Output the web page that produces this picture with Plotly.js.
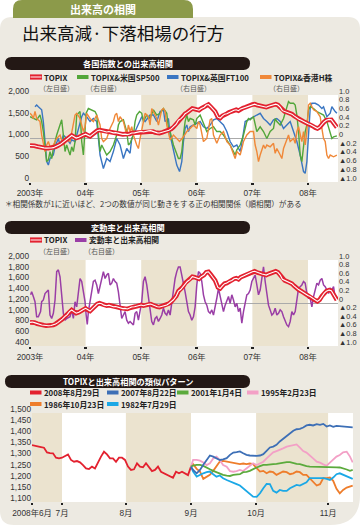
<!DOCTYPE html>
<html><head><meta charset="utf-8">
<script src="https://cdn.plot.ly/plotly-3.0.1.min.js"></script>
<style>html,body{margin:0;padding:0;background:#fff;}#chart{width:360px;height:525px;}</style>
</head><body><div id="chart"></div>
<script>
// ================= DATA =================
// Panel 1 & 2: x in decimal years
const yearTicks = [2003, 2004, 2005, 2006, 2007, 2008];
const yearTickText = ['2003年', '04年', '05年', '06年', '07年', '08年'];

// TOPIX (left scale)
const topixX = [
 2003.00,2003.04,2003.08,2003.13,2003.17,2003.21,2003.25,2003.29,2003.33,2003.38,2003.42,2003.46,2003.50,2003.54,2003.58,2003.63,2003.67,2003.71,2003.75,2003.79,2003.83,2003.88,2003.92,2003.96,
 2004.00,2004.04,2004.08,2004.13,2004.17,2004.21,2004.25,2004.29,2004.33,2004.38,2004.42,2004.46,2004.50,2004.54,2004.58,2004.63,2004.67,2004.71,2004.75,2004.79,2004.83,2004.88,2004.92,2004.96,
 2005.00,2005.04,2005.08,2005.13,2005.17,2005.21,2005.25,2005.29,2005.33,2005.38,2005.42,2005.46,2005.50,2005.54,2005.58,2005.63,2005.67,2005.71,2005.75,2005.79,2005.83,2005.88,2005.92,2005.96,
 2006.00,2006.04,2006.08,2006.13,2006.17,2006.21,2006.25,2006.29,2006.33,2006.38,2006.42,2006.46,2006.50,2006.54,2006.58,2006.63,2006.67,2006.71,2006.75,2006.79,2006.83,2006.88,2006.92,2006.96,
 2007.00,2007.04,2007.08,2007.13,2007.17,2007.21,2007.25,2007.29,2007.33,2007.38,2007.42,2007.46,2007.50,2007.54,2007.58,2007.63,2007.67,2007.71,2007.75,2007.79,2007.83,2007.88,2007.92,2007.96,
 2008.00,2008.04,2008.08,2008.13,2008.17,2008.21,2008.25,2008.29,2008.33,2008.38,2008.42,2008.46,2008.50,2008.52];
const topixY = [
 840,845,835,815,800,790,785,778,776,780,790,810,835,860,900,950,985,1040,1070,1040,1010,1030,1060,1080,
 1100,1070,1050,1100,1150,1180,1195,1185,1160,1150,1160,1145,1130,1135,1120,1105,1095,1100,1090,1105,1125,1130,1140,1155,
 1163,1150,1165,1175,1180,1160,1140,1130,1125,1140,1155,1163,1190,1220,1260,1330,1420,1450,1500,1570,1600,1640,1690,1680,
 1670,1650,1690,1720,1770,1780,1730,1680,1620,1490,1470,1520,1560,1570,1600,1620,1650,1660,1640,1680,1700,1720,1730,1760,
 1780,1790,1770,1760,1740,1730,1720,1740,1760,1780,1790,1770,1720,1640,1620,1600,1590,1560,1520,1480,1450,1420,1390,1370,
 1340,1320,1290,1250,1230,1260,1330,1380,1420,1440,1430,1360,1300,1256];

// TOPIX & 米国SP500 (right scale)
const sp500X = [
 2003.00,2003.06,2003.12,2003.18,2003.21,2003.24,2003.27,2003.30,2003.33,2003.36,2003.39,2003.42,2003.48,2003.54,2003.57,2003.60,2003.63,2003.66,2003.72,2003.75,2003.78,2003.81,2003.84,2003.90,2003.93,2003.96,2003.99,
 2004.01,2004.05,2004.11,2004.17,2004.20,2004.23,2004.26,2004.29,2004.32,2004.38,2004.44,2004.50,2004.56,2004.59,2004.62,2004.68,2004.74,2004.77,2004.80,2004.86,2004.89,2004.92,2004.97,
 2005.01,2005.04,2005.10,2005.16,2005.22,2005.28,2005.34,2005.40,2005.46,2005.49,2005.52,2005.58,2005.64,2005.67,2005.70,2005.73,2005.76,2005.79,2005.82,2005.85,2005.88,2005.94,2005.97,
 2006.00,2006.06,2006.12,2006.18,2006.24,2006.30,2006.36,2006.42,2006.48,2006.54,2006.60,2006.66,2006.69,2006.72,2006.78,2006.84,2006.90,2006.93,2006.96,
 2007.02,2007.05,2007.08,2007.14,2007.20,2007.26,2007.32,2007.38,2007.41,2007.44,2007.50,2007.56,2007.62,2007.65,2007.68,2007.74,2007.77,2007.80,2007.83,2007.86,2007.89,2007.92,2007.95,2007.98,
 2008.01,2008.04,2008.10,2008.16,2008.22,2008.28,2008.34,2008.40,2008.43,2008.46,2008.52];
const sp500Y = [
 0.50,0.46,0.43,0.54,0.39,0.16,-0.23,-0.53,-0.49,-0.30,-0.46,-0.23,0.08,0.31,0.43,0.08,-0.30,-0.15,-0.38,-0.19,-0.30,-0.07,0.54,0.62,-0.07,-0.38,0.08,
 0.58,0.69,0.66,0.62,0.54,0.08,-0.30,-0.15,-0.23,-0.38,-0.30,-0.15,0.08,0.31,0.39,0.43,0.16,-0.15,-0.11,0.08,0.39,0.54,0.62,
 0.58,0.39,0.54,0.46,0.66,0.54,0.58,0.69,0.58,0.23,0.16,-0.15,-0.38,-0.46,-0.46,-0.30,0.08,0.39,0.54,0.39,0.46,0.43,0.31,
 0.46,0.54,0.35,0.16,0.23,0.27,0.16,0.16,0.08,-0.03,-0.15,-0.30,-0.38,-0.26,-0.15,0.08,0.39,0.46,0.43,
 0.50,0.31,0.16,0.27,0.16,0.00,0.16,0.23,0.46,0.39,0.31,0.46,0.69,0.85,0.81,0.81,0.77,0.54,0.16,-0.38,-0.53,-0.23,0.16,0.31,
 0.66,0.73,0.69,0.62,0.58,0.54,0.39,0.16,0.00,0.04,0.06];

// TOPIX & 英国FT100 (right scale)
const ft100X = [
 2003.09,2003.12,2003.15,2003.18,2003.21,2003.24,2003.27,2003.30,2003.33,2003.36,2003.42,2003.45,2003.51,2003.54,2003.60,2003.66,2003.72,2003.75,2003.81,2003.87,2003.90,2003.93,2003.96,
 2004.02,2004.08,2004.14,2004.20,2004.26,2004.32,2004.38,2004.44,2004.50,2004.56,2004.62,2004.68,2004.74,2004.80,2004.83,2004.89,2004.95,
 2005.01,2005.07,2005.16,2005.22,2005.28,2005.34,2005.40,2005.43,2005.49,2005.52,2005.58,2005.64,2005.69,2005.73,2005.76,2005.79,2005.82,2005.85,2005.88,2005.94,
 2006.00,2006.06,2006.12,2006.18,2006.24,2006.30,2006.36,2006.42,2006.48,2006.54,2006.60,2006.66,2006.72,2006.78,2006.81,2006.87,2006.96,
 2007.02,2007.08,2007.14,2007.20,2007.26,2007.32,2007.38,2007.44,2007.50,2007.56,2007.62,2007.68,2007.74,2007.80,2007.86,2007.89,2007.92,2007.95,2007.98,
 2008.01,2008.04,2008.07,2008.13,2008.19,2008.25,2008.28,2008.34,2008.40,2008.43,2008.49,2008.52];
const ft100Y = [
 0.73,0.77,0.73,0.69,0.66,0.39,-0.15,-0.53,-0.61,-0.46,-0.38,-0.19,0.00,-0.15,0.08,0.00,-0.11,-0.03,-0.07,0.23,0.39,0.50,0.58,
 0.50,0.39,0.46,0.39,-0.38,-0.69,-0.46,-0.53,-0.30,0.00,-0.15,-0.46,-0.23,-0.34,0.00,0.16,0.35,
 0.50,0.39,0.54,0.54,0.39,0.62,0.66,0.39,0.46,0.08,-0.23,-0.61,-0.76,-0.53,-0.07,0.23,0.31,0.16,0.27,0.31,
 0.35,0.39,0.27,0.23,0.31,0.43,0.46,0.39,0.31,0.16,-0.07,-0.19,-0.15,-0.30,-0.11,0.39,0.46,
 0.50,0.54,0.58,0.46,0.39,0.31,0.43,0.46,0.39,0.23,0.31,0.39,0.16,-0.07,-0.38,-0.61,-0.76,-0.80,-0.53,
 0.08,0.69,0.81,0.81,0.77,0.69,0.73,0.50,0.58,0.73,0.62,0.58];

// TOPIX & 香港H株 (right scale)
const hshareX = [
 2003.00,2003.03,2003.06,2003.09,2003.12,2003.18,2003.21,2003.24,2003.27,2003.30,2003.33,2003.36,2003.42,2003.48,2003.54,2003.60,2003.66,2003.72,2003.78,2003.81,2003.84,2003.90,2003.96,2003.99,
 2004.02,2004.08,2004.14,2004.20,2004.26,2004.29,2004.32,2004.38,2004.44,2004.50,2004.53,2004.56,2004.59,2004.62,2004.68,2004.71,2004.74,2004.77,2004.80,2004.83,2004.86,2004.92,2004.95,2004.98,
 2005.01,2005.04,2005.07,2005.13,2005.16,2005.19,2005.22,2005.28,2005.31,2005.34,2005.37,2005.40,2005.43,2005.46,2005.49,2005.52,2005.58,2005.64,2005.69,2005.76,2005.82,2005.88,2005.94,
 2006.00,2006.03,2006.06,2006.12,2006.18,2006.24,2006.27,2006.30,2006.36,2006.42,2006.48,2006.54,2006.60,2006.66,2006.69,2006.72,2006.78,2006.81,2006.84,2006.90,2006.96,
 2007.02,2007.05,2007.08,2007.11,2007.14,2007.20,2007.23,2007.26,2007.32,2007.38,2007.41,2007.44,2007.50,2007.53,2007.56,2007.62,2007.65,2007.68,2007.74,2007.77,2007.80,2007.83,2007.86,2007.89,2007.92,2007.95,2007.98,
 2008.01,2008.04,2008.10,2008.16,2008.22,2008.25,2008.28,2008.31,2008.34,2008.37,2008.40,2008.46,2008.52];
const hshareY = [
 0.58,0.54,0.46,0.62,0.46,0.39,0.08,-0.15,-0.30,-0.15,-0.07,-0.19,-0.15,0.00,0.08,-0.15,-0.03,-0.07,0.39,0.54,0.58,0.46,0.16,0.27,
 0.58,0.46,0.39,0.54,0.31,0.00,-0.07,0.00,0.23,0.39,0.54,0.58,0.39,0.50,0.39,0.23,0.08,0.31,0.16,0.27,0.08,-0.15,-0.23,0.00,
 0.20,0.46,0.58,0.50,0.31,0.69,0.62,0.46,0.31,0.46,0.66,0.69,0.62,0.31,0.16,-0.03,0.08,0.00,-0.07,0.04,0.16,0.23,0.31,
 0.23,0.39,0.31,-0.07,0.00,0.43,0.46,0.08,-0.11,0.08,0.16,-0.07,-0.15,-0.38,-0.46,-0.30,-0.38,-0.23,-0.07,0.08,0.16,
 0.16,-0.15,-0.30,-0.53,-0.38,-0.15,-0.23,-0.15,-0.19,-0.11,-0.34,-0.23,-0.38,-0.46,-0.23,0.00,0.08,-0.07,0.00,-0.11,0.16,0.27,0.08,-0.07,0.16,-0.15,0.16,
 0.77,0.81,0.66,0.62,0.50,0.23,0.00,-0.07,-0.38,-0.46,-0.38,-0.42,-0.38];

// 変動率と出来高相関 (right scale, panel 2)
const volX = [
 2003.01,2003.03,2003.06,2003.09,2003.12,2003.15,2003.19,2003.21,2003.24,2003.27,2003.30,2003.33,2003.36,2003.39,2003.42,2003.45,2003.48,2003.51,2003.54,2003.57,2003.60,2003.63,2003.66,2003.72,2003.75,2003.78,2003.81,2003.84,2003.87,2003.90,2003.93,2003.96,2003.99,
 2004.01,2004.03,2004.05,2004.08,2004.11,2004.14,2004.17,2004.20,2004.23,2004.26,2004.29,2004.32,2004.35,2004.38,2004.41,2004.44,2004.47,2004.50,2004.53,2004.56,2004.59,2004.62,2004.65,2004.68,2004.71,2004.74,2004.77,2004.80,2004.83,2004.86,2004.89,2004.92,2004.95,2004.98,
 2005.01,2005.04,2005.07,2005.10,2005.13,2005.16,2005.19,2005.22,2005.25,2005.28,2005.31,2005.34,2005.37,2005.40,2005.43,2005.46,2005.49,2005.52,2005.55,2005.58,2005.61,2005.64,2005.67,2005.70,2005.73,2005.76,2005.79,2005.82,2005.85,2005.88,2005.91,2005.94,2005.97,
 2006.00,2006.03,2006.06,2006.09,2006.12,2006.15,2006.18,2006.21,2006.24,2006.27,2006.30,2006.33,2006.36,2006.39,2006.42,2006.45,2006.48,2006.51,2006.54,2006.57,2006.60,2006.63,2006.66,2006.69,2006.72,2006.75,2006.78,2006.81,2006.84,2006.87,2006.90,2006.93,2006.96,2006.99,
 2007.02,2007.05,2007.08,2007.11,2007.14,2007.17,2007.20,2007.23,2007.26,2007.29,2007.32,2007.35,2007.38,2007.41,2007.44,2007.47,2007.50,2007.53,2007.56,2007.59,2007.62,2007.65,2007.68,2007.71,2007.74,2007.77,2007.80,2007.83,2007.86,2007.89,2007.92,2007.95,2007.98,
 2008.01,2008.04,2008.07,2008.10,2008.13,2008.16,2008.19,2008.22,2008.25,2008.28,2008.31,2008.34,2008.37,2008.40,2008.43,2008.46,2008.49,2008.52];
const volY = [
 0.19,0.26,0.15,0.03,-0.32,-0.32,-0.20,0.03,0.07,0.22,0.26,0.30,-0.28,-0.36,-0.24,0.07,0.73,0.77,0.61,0.26,-0.24,-0.40,-0.36,-0.32,-0.16,-0.36,0.03,-0.09,0.22,0.57,0.50,0.26,0.03,
 -0.28,-0.50,-0.20,0.03,0.19,0.50,0.53,0.42,0.22,0.42,0.61,0.73,0.57,0.65,0.69,0.42,0.46,0.57,0.50,0.46,0.26,-0.12,-0.36,-0.28,-0.20,-0.40,-0.47,-0.43,-0.47,-0.51,-0.24,-0.20,-0.40,-0.20,
 0.03,0.50,0.61,0.42,0.11,-0.12,-0.43,-0.51,-0.36,-0.32,-0.43,-0.36,-0.28,-0.12,-0.24,-0.28,-0.16,-0.28,0.03,0.26,0.57,0.73,0.84,0.84,0.65,0.50,0.26,0.03,-0.20,-0.28,-0.40,-0.32,-0.09,
 0.42,0.73,0.69,0.50,0.19,0.03,-0.05,-0.20,-0.24,-0.16,-0.28,-0.12,0.11,0.34,0.15,-0.05,-0.20,-0.05,0.07,0.15,-0.01,0.19,0.07,-0.09,-0.01,-0.20,-0.12,-0.47,-0.20,0.03,0.19,0.22,0.30,0.50,
 0.57,0.65,0.42,0.19,0.30,0.57,0.84,0.50,0.19,-0.05,-0.16,-0.28,-0.24,-0.12,-0.28,-0.24,-0.16,-0.20,-0.32,-0.43,-0.51,-0.55,-0.43,-0.20,-0.28,-0.20,0.03,0.34,0.38,0.42,0.50,0.46,0.22,
 0.11,0.11,-0.09,0.15,0.34,0.46,0.42,0.53,0.57,0.42,0.38,0.30,0.22,0.34,0.30,0.38,0.11,0.15];

// Panel 3: x = trading days from mid-June 2008
const monthTicks = [0, 10, 31.3, 53, 74.7, 98.7];
const monthTickText = ['2008年6月', '7月', '8月', '9月', '10月', '11月'];
const topix2008X = [0,1,2,3,4,5,6,7,8,9,10,11,12,13,14,15,16,17,18,19,20,21,22,23,24,25,26,27,28,29,30,31,32,33,34,35,36,37,38,39,40,41,42,43,44,45,46,47,48,49,50,51,52,53];
const topix2008Y = [1356,1352,1349,1347,1344,1323,1320,1319,1299,1296,1299,1305,1314,1289,1281,1284,1278,1266,1251,1248,1259,1251,1281,1304,1326,1314,1296,1296,1281,1299,1299,1289,1259,1244,1247,1274,1259,1256,1274,1259,1239,1244,1259,1236,1229,1224,1218,1209,1236,1229,1236,1229,1221,1259];
const patternX = [53,53.7,54.9,56,57.1,58.2,59.3,60.4,61.5,62.6,63.7,64.9,66,67.1,68.2,69.3,70.4,71.5,72.6,73.7,74.9,76,77.1,78.2,79.3,80.4,81.5,82.6,83.7,84.9,86,87.1,88.2,89.3,90.4,91.5,92.6,93.7,94.9,96,97.1,98.2,99.3,100.4,101.5,102.6,103.7,104.9,106,106.9];
const p20070822 = [1259,1244,1229,1244,1267,1289,1309,1304,1297,1289,1292,1297,1312,1322,1324,1327,1319,1312,1309,1307,1307,1309,1315,1330,1345,1349,1357,1372,1384,1397,1409,1420,1427,1429,1435,1444,1447,1444,1450,1447,1451,1439,1444,1438,1442,1441,1441,1438,1439,1435];
const p20010104 = [1259,1264,1267,1267,1262,1256,1247,1240,1234,1228,1222,1219,1217,1222,1223,1225,1234,1235,1240,1249,1255,1261,1267,1267,1267,1270,1271,1274,1277,1279,1279,1274,1271,1270,1264,1261,1259,1259,1258,1256,1258,1259,1259,1258,1256,1255,1252,1246,1240,1244];
const p19950223 = [1259,1289,1289,1286,1278,1266,1274,1296,1304,1289,1266,1259,1239,1236,1239,1244,1239,1251,1263,1274,1266,1274,1281,1296,1311,1323,1329,1334,1341,1349,1352,1353,1359,1344,1329,1322,1311,1296,1281,1277,1269,1263,1277,1289,1304,1311,1323,1326,1304,1278];
const p19861023 = [1259,1270,1249,1237,1204,1214,1222,1240,1259,1282,1285,1282,1279,1274,1274,1270,1273,1270,1273,1270,1252,1237,1240,1229,1237,1234,1222,1229,1237,1234,1225,1229,1237,1234,1222,1222,1207,1192,1174,1180,1207,1207,1210,1195,1159,1139,1154,1165,1169,1174];
const p19820729 = [1259,1237,1214,1222,1229,1234,1237,1225,1214,1219,1207,1199,1192,1184,1180,1174,1162,1150,1135,1124,1123,1139,1162,1181,1180,1150,1142,1154,1150,1150,1162,1169,1177,1174,1180,1189,1207,1207,1210,1210,1207,1204,1199,1210,1225,1229,1222,1214,1207,1204];

const corrTicks = [-1,-0.8,-0.6,-0.4,-0.2,0,0.2,0.4,0.6,0.8,1];
const corrTickText = ['▲1.0','▲0.8','▲0.6','▲0.4','▲0.2','0','0.2','0.4','0.6','0.8','1.0'];
const lvl1Ticks = [0,500,1000,1500,2000];
const lvl1Text = ['0','500','1,000','1,500','2,000'];
const lvl2Ticks = [400,600,800,1000,1200,1400,1600,1800,2000];
const lvl2Text = ['400','600','800','1,000','1,200','1,400','1,600','1,800','2,000'];
const lvl3Ticks = [1100,1150,1200,1250,1300,1350,1400,1450,1500];
const lvl3Text = ['1,100','1,150','1,200','1,250','1,300','1,350','1,400','1,450','1,500'];

// ================= STYLE / LAYOUT =================
const W = 360, H = 525;
const JP = '"Noto Sans CJK JP", sans-serif';
const NUM = '"Liberation Sans", "Noto Sans CJK JP", sans-serif';
const C = {red:'#E3212F', green:'#52A63A', blue:'#3A76C2', orange:'#F08838', purple:'#9A3EA6',
  b07:'#3D6FB6', g01:'#5BAA3C', pink:'#F3A0C6', o86:'#EE7D2B', cyan:'#1BA8E6',
  card:'#EDEAE2', beige:'#EBE3CF', bar:'#231815', tab:'#8C9A4A'};
const PX = x => x / W, PY = y => 1 - y / H;

function rr(x0, y0, x1, y1, r) {
  const [tl, tr, br, bl] = Array.isArray(r) ? r : [r, r, r, r];
  const P = (x, y) => (x / W).toFixed(5) + ',' + (1 - y / H).toFixed(5);
  return 'M' + P(x0 + tl, y0) + ' L' + P(x1 - tr, y0) + ' Q' + P(x1, y0) + ' ' + P(x1, y0 + tr) +
    ' L' + P(x1, y1 - br) + ' Q' + P(x1, y1) + ' ' + P(x1 - br, y1) +
    ' L' + P(x0 + bl, y1) + ' Q' + P(x0, y1) + ' ' + P(x0, y1 - bl) +
    ' L' + P(x0, y0 + tl) + ' Q' + P(x0, y0) + ' ' + P(x0 + tl, y0) + ' Z';
}
const shapes = [];
const ann = [];
function pathShape(d, fill) { shapes.push({type:'path', xref:'paper', yref:'paper', path:d, fillcolor:fill, line:{width:0}, layer:'below'}); }
function rectPx(x0, y0, x1, y1, fill) { shapes.push({type:'rect', xref:'paper', yref:'paper', x0:PX(x0), x1:PX(x1), y0:PY(y1), y1:PY(y0), fillcolor:fill, line:{width:0}, layer:'below'}); }
function band(xref, a, b, y0, y1) { shapes.push({type:'rect', xref:xref, yref:'paper', x0:a, x1:b, y0:PY(y1), y1:PY(y0), fillcolor:C.beige, line:{width:0}, layer:'below'}); }
function text(t, x, y, opt) {
  opt = opt || {};
  ann.push({text:t, xref:'paper', yref:'paper', x:PX(x), y:PY(y), xanchor:opt.xa || 'left', yanchor:'middle', showarrow:false,
    borderpad:0, font:{family:opt.fam || JP, size:opt.size || 8, color:opt.color || '#222', weight:opt.weight || 400}});
}

// card + tab
pathShape(rr(0, 17, 360, 525, [12, 12, 30, 14]), C.card);
pathShape(rr(13, 0, 193, 18, [9, 9, 0, 0]), C.tab);
text('出来高の相関', 103, 8.5, {xa:'center', size:11, color:'#fff', weight:700});
text('出来高減·下落相場の行方', 21, 33, {size:17.5, color:'#111'});

// header bars
[[57, 70, '各国指数との出来高相関'], [221, 234, '変動率と出来高相関'], [375, 388, 'TOPIXと出来高相関の類似パターン']].forEach(h => {
  pathShape(rr(5, h[0], 250, h[1], 6.5), C.bar);
  text(h[2], 128, (h[0] + h[1]) / 2 - 0.5, {xa:'center', size:8.2, color:'#fff', weight:700});
});

// plot areas
rectPx(30, 95, 338, 182, '#fff');
rectPx(30, 260, 338, 346, '#fff');
rectPx(32, 413, 353, 502, '#fff');
[[2003, 2004], [2005, 2006], [2007, 2008]].forEach(b => { band('x', b[0], b[1], 95, 182); band('x2', b[0], b[1], 260, 346); });
band('x3', monthTicks[0], monthTicks[1], 413, 502);
band('x3', monthTicks[2], monthTicks[3], 413, 502);
band('x3', monthTicks[4], monthTicks[5], 413, 502);

// legends
function sym(x0, yc, color, topixStyle) {
  if (topixStyle) {
    rectPx(x0, yc - 2.6, x0 + 12, yc + 2.6, C.red);
    rectPx(x0 + 0.5, yc - 0.5, x0 + 11.5, yc + 0.5, '#fff');
  } else rectPx(x0, yc - 2, x0 + 11.5, yc + 2, color);
}
function leg(x0, yc, color, label, sub, topixStyle) {
  sym(x0, yc, color, topixStyle);
  text(label, x0 + 13, yc, {size:7.8, weight:700, color:'#222'});
  if (sub) text(sub, x0 + 8, yc + 11, {size:7, color:'#555'});
}
leg(30, 77, C.red, 'TOPIX', '（左目盛）', true);
leg(77, 77, C.green, 'TOPIX&米国SP500', '（右目盛）');
leg(167, 77, C.blue, 'TOPIX&英国FT100', '（右目盛）');
leg(260, 77, C.orange, 'TOPIX&香港H株', '（右目盛）');
leg(30, 240, C.red, 'TOPIX', '（左目盛）', true);
leg(75, 240, C.purple, '変動率と出来高相関', '（右目盛）');
leg(30, 392.5, C.red, '2008年8月29日');
leg(107, 392.5, C.b07, '2007年8月22日');
leg(177, 392.5, C.g01, '2001年1月4日');
leg(247, 392.5, C.pink, '1995年2月23日');
leg(30, 404, C.o86, '1986年10月23日');
leg(107, 404, C.cyan, '1982年7月29日');

text('＊相関係数が1に近いほど、2つの数値が同じ動きをする正の相関関係（順相関）がある', 4, 203, {size:7.6, color:'#333'});

// traces
function ln(x, y, xa, ya, color, width, name) {
  return {type:'scatter', mode:'lines', x:x, y:y, xaxis:xa, yaxis:ya, name:name || '', line:{color:color, width:width}, hoverinfo:'skip', showlegend:false};
}
const traces = [
  ln(ft100X, ft100Y, 'x', 'y', C.blue, 1.4, 'TOPIX&英国FT100'),
  ln(sp500X, sp500Y, 'x', 'y', C.green, 1.4, 'TOPIX&米国SP500'),
  ln(hshareX, hshareY, 'x', 'y', C.orange, 1.4, 'TOPIX&香港H株'),
  ln(topixX, topixY, 'x', 'y2', C.red, 4.6, 'TOPIX'),
  ln(topixX, topixY, 'x', 'y2', '#fff', 1.1),
  ln(volX, volY, 'x2', 'y3', C.purple, 1.5, '変動率と出来高相関'),
  ln(topixX, topixY, 'x2', 'y4', C.red, 4.6, 'TOPIX'),
  ln(topixX, topixY, 'x2', 'y4', '#fff', 1.1),
  ln(topix2008X, topix2008Y, 'x3', 'y5', C.red, 1.8, '2008年8月29日'),
  ln(patternX, p19861023, 'x3', 'y5', C.o86, 1.8, '1986年10月23日'),
  ln(patternX, p19820729, 'x3', 'y5', C.cyan, 1.8, '1982年7月29日'),
  ln(patternX, p19950223, 'x3', 'y5', C.pink, 1.8, '1995年2月23日'),
  ln(patternX, p20010104, 'x3', 'y5', C.g01, 1.8, '2001年1月4日'),
  ln(patternX, p20070822, 'x3', 'y5', C.b07, 1.8, '2007年8月22日')
];

const tf = {family:NUM, size:8.3, color:'#333'};
const tfR = {family:NUM, size:7.4, color:'#333'};
const xBase = {ticks:'outside', ticklen:2, tickwidth:2.6, tickcolor:'#222', showgrid:false, zeroline:false, showline:false, tickfont:tf, fixedrange:true, automargin:false, ticklabelstandoff:1};
const yBase = {ticks:'', showgrid:false, showline:false, tickfont:tf, fixedrange:true, automargin:false, ticklabelshift:-4};
const layout = {
  width:W, height:H, margin:{l:0, r:0, t:0, b:0}, paper_bgcolor:'#fff', plot_bgcolor:'rgba(0,0,0,0)',
  showlegend:false, hovermode:false, shapes:shapes, annotations:ann,
  xaxis: Object.assign({}, xBase, {domain:[PX(30), PX(338)], anchor:'y', range:[2003, 2008.54], tickvals:yearTicks, ticktext:yearTickText}),
  yaxis: Object.assign({}, yBase, {domain:[PY(182), PY(95)], anchor:'x', side:'right', range:[-1, 1], tickvals:corrTicks, ticktext:corrTickText, tickfont:tfR, zeroline:true, zerolinecolor:'#aaa', zerolinewidth:1}),
  yaxis2: Object.assign({}, yBase, {overlaying:'y', anchor:'x', side:'left', range:[0, 2000], tickvals:lvl1Ticks, ticktext:lvl1Text, zeroline:false}),
  xaxis2: Object.assign({}, xBase, {domain:[PX(30), PX(338)], anchor:'y3', range:[2003, 2008.54], tickvals:yearTicks, ticktext:yearTickText}),
  yaxis3: Object.assign({}, yBase, {domain:[PY(346), PY(260)], anchor:'x2', side:'right', range:[-1, 1], tickvals:corrTicks, ticktext:corrTickText, tickfont:tfR, zeroline:true, zerolinecolor:'#aaa', zerolinewidth:1}),
  yaxis4: Object.assign({}, yBase, {overlaying:'y3', anchor:'x2', side:'left', range:[400, 2000], tickvals:lvl2Ticks, ticktext:lvl2Text, zeroline:false}),
  xaxis3: Object.assign({}, xBase, {domain:[PX(32), PX(353)], anchor:'y5', range:[0, 107], tickvals:monthTicks, ticktext:monthTickText}),
  yaxis5: Object.assign({}, yBase, {domain:[PY(502), PY(413)], anchor:'x3', side:'left', range:[1100, 1500], tickvals:lvl3Ticks, ticktext:lvl3Text, zeroline:false})
};
Plotly.newPlot('chart', traces, layout, {staticPlot:true, displayModeBar:false});
</script></body></html>
